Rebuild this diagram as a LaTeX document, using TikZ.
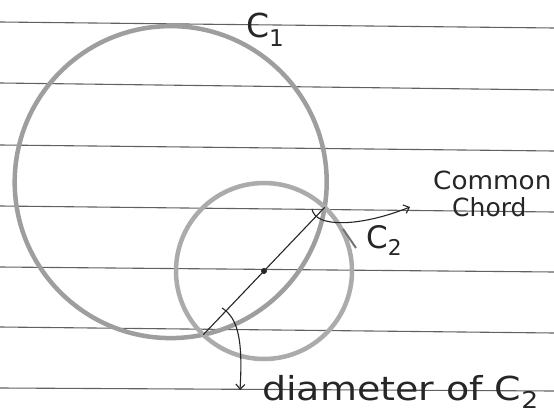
\documentclass[tikz,border=0pt]{standalone}
\usepackage{fontspec}
\setmainfont{DejaVu Sans}
\usetikzlibrary{arrows.meta}
\begin{document}
\begin{tikzpicture}[x=1pt,y=-1pt,
  paperline/.style={draw=black!62, line width=1.1pt},
  pencil/.style={draw=black!38, line width=4.5pt},
  ink/.style={draw=black!85, line width=1.1pt},
  inkarrow/.style={ink, -{Straight Barb[length=5pt,width=9pt,line width=1.1pt]}},
  hand/.style={inner sep=0pt, text=black!85, anchor=base west},
  dotmark/.style={circle, fill=black!85, inner sep=0pt, minimum size=6pt}]
\path[use as bounding box, fill=white] (0,0) rectangle (554,417);
% ruled paper
\foreach \yl/\yr in {22/28, 83/90, 145/151, 206/212, 267/272, 327/333, 388/391}
  \draw[paperline] (0,\yl) -- (554,\yr);
% circles
\coordinate (O1) at (170.7,182.1);
\coordinate (O2) at (264,271);
\draw[pencil] (O1) circle[radius=156pt];
\draw[pencil, draw=black!33] (O2) circle[radius=88pt];
\draw[draw=black!55, line width=2pt] (343,229) -- (356,248);
% common chord = diameter of C2
\coordinate (dA) at (203.3,334.7);
\coordinate (dB) at (324.7,207.3);
\draw[ink] (dA) -- (dB);
\node[dotmark] (ctr) at (O2) {};
% labels
\node[hand, font=\fontsize{33}{33}\selectfont] (c1) at (246,38) {C\textsubscript{1}};
\node[hand, font=\fontsize{25}{25}\selectfont, xscale=1.05] (common) at (433,189) {Common};
\node[hand, font=\fontsize{25}{25}\selectfont] (chord) at (452,216) {Chord};
\node[hand, font=\fontsize{31}{31}\selectfont] (c2) at (366,248) {C\textsubscript{2}};
\node[hand, font=\fontsize{33}{33}\selectfont, xscale=1.15] (diam) at (262,400) {diameter of C\textsubscript{2}};
% arrows
\coordinate (ccs) at (312,209);
\coordinate (cce) at (410,207);
\draw[inkarrow] (ccs) .. controls (315,228) and (360,227) .. (cce);
\coordinate (dms) at (222,308);
\coordinate (dme) at (240,390);
\draw[inkarrow] (dms) .. controls (238,318) and (243,340) .. (dme);
\end{tikzpicture}
\end{document}
